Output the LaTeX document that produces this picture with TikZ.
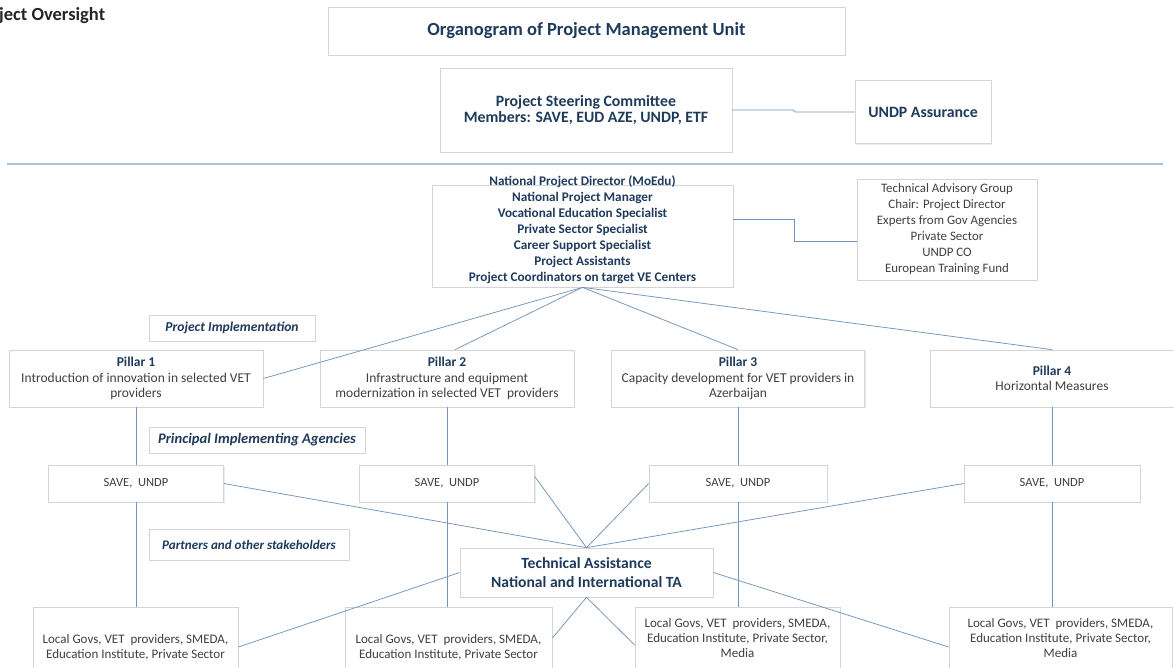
\documentclass[tikz,border=0pt]{standalone}
\usepackage{fontspec}
\setmainfont{Carlito}
\usetikzlibrary{shadows}
\definecolor{navy}{HTML}{1F3B5C}
\definecolor{txtgray}{HTML}{404040}
\definecolor{conncol}{HTML}{7394BD}
\definecolor{rulecol}{HTML}{A9C0DA}
\definecolor{boxline}{HTML}{D4D4D4}
\begin{document}
\begin{tikzpicture}[x=1pt,y=-1pt,
  box/.style={draw=boxline,line width=0.7pt,fill=white,inner sep=0pt,align=center,
    drop shadow={shadow xshift=1pt,shadow yshift=-1pt,opacity=0.18,fill=black!40}},
  conn/.style={draw=conncol,line width=0.75pt},
  plain/.style={inner sep=0pt,align=center},
  bighead/.style={font=\bfseries\fontsize{15.8}{16}\selectfont,text=navy},
  txtsmall/.style={font=\fontsize{13.5}{15.5}\selectfont,text=txtgray},
  txtloc/.style={font=\fontsize{13}{15}\selectfont,text=txtgray},
  txtsave/.style={font=\fontsize{12.5}{15}\selectfont,text=txtgray},
  txtbold/.style={font=\bfseries\fontsize{13.2}{16}\selectfont,text=navy},
  italab/.style={font=\bfseries\itshape\fontsize{13.4}{15}\selectfont,text=navy},
]
\clip (0,0) rectangle (1174,667);
\fill[white] (0,0) rectangle (1174,667);

% top part
\node[box,minimum width=517,minimum height=48,font=\bfseries\fontsize{18.5}{22}\selectfont,text=navy] (title) at (586.5,31) {Organogram of Project Management Unit};
\node[plain,anchor=west,font=\bfseries\fontsize{18.5}{22}\selectfont,text=black!85] (over) at (-1,16) {ject Oversight};
\node[box,bighead,minimum width=292,minimum height=84] (steer) at (586,110) {Project Steering Committee\\Members: SAVE, EUD AZE, UNDP, ETF};
\node[box,bighead,minimum width=136,minimum height=63] (undp) at (923,112) {UNDP Assurance};
\draw[conn] (steer.east) -- ++(61,0) -- ++(2,2) -- (undp.west);

\draw[draw=rulecol,line width=1.4pt] (7,164) -- (1163,164);

% PMU
\node[box,minimum width=301,minimum height=102] (pmu) at (582.5,236) {};
\node[plain,txtbold] (pmutext) at (582.5,230) {National Project Director (MoEdu)\\National Project Manager\\Vocational Education Specialist\\Private Sector Specialist\\Career Support Specialist\\Project Assistants\\Project Coordinators on target VE Centers};
\node[box,font=\fontsize{12.9}{16}\selectfont,text=txtgray,minimum width=180,minimum height=101] (tag) at (947,229.5) {Technical Advisory Group\\Chair: Project Director\\Experts from Gov Agencies\\Private Sector\\UNDP CO\\European Training Fund};
\draw[conn] ([yshift=-35pt]pmu.north east) -- ++(61,0) |- ([yshift=-11.5pt]tag.west);

% labels
\node[box,italab,font=\bfseries\itshape\fontsize{13.6}{15}\selectfont,minimum width=166,minimum height=26] (impl) at (232,328) {Project Implementation};
\node[box,italab,font=\bfseries\itshape\fontsize{14.6}{16}\selectfont,minimum width=216,minimum height=26] (pia) at (257,440) {Principal Implementing Agencies};
\node[box,italab,font=\bfseries\itshape\fontsize{13.1}{15}\selectfont,minimum width=200,minimum height=31] (partners) at (249,544.5) {Partners and other stakeholders};

% pillars
\node[box,txtsmall,minimum width=254,minimum height=57] (p1) at (136,378.5) {\textcolor{navy}{\bfseries Pillar 1}\\Introduction of innovation in selected VET\\providers};
\node[box,txtsmall,minimum width=254,minimum height=57] (p2) at (447,378.5) {\textcolor{navy}{\bfseries Pillar 2}\\Infrastructure and equipment\\modernization in selected VET\ \ providers};
\node[box,txtsmall,minimum width=253,minimum height=57] (p3) at (738,378.5) {\textcolor{navy}{\bfseries Pillar 3}\\Capacity development for VET providers in\\Azerbaijan};
\node[box,txtsmall,minimum width=244,minimum height=57] (p4) at (1052,378.5) {\textcolor{navy}{\bfseries Pillar 4}\\Horizontal Measures};

\draw[conn] (pmu.south) -- (p1.east);
\draw[conn] (pmu.south) -- ([xshift=8pt]p2.north);
\draw[conn] (pmu.south) -- (p3.north);
\draw[conn] (pmu.south) -- (p4.north);

% agencies
\node[box,txtsave,minimum width=175,minimum height=37] (s1) at (136,483.5) {SAVE,\ \ UNDP};
\node[box,txtsave,minimum width=175,minimum height=37] (s2) at (447,483.5) {SAVE,\ \ UNDP};
\node[box,txtsave,minimum width=178,minimum height=37] (s3) at (738,483.5) {SAVE,\ \ UNDP};
\node[box,txtsave,minimum width=176,minimum height=37] (s4) at (1052,483.5) {SAVE,\ \ UNDP};

% technical assistance
\node[box,font=\bfseries\fontsize{15.6}{19}\selectfont,text=navy,minimum width=253,minimum height=49] (ta) at (586.5,572.5) {Technical Assistance\\National and International TA};

% stakeholders
\node[box,minimum width=205,minimum height=80] (l1) at (135.5,647) {};
\node[plain,txtloc] (l1t) at (135.5,647.5) {Local Govs, VET\ \ providers, SMEDA,\\Education Institute, Private Sector};
\node[box,minimum width=207,minimum height=80] (l2) at (448.5,647) {};
\node[plain,txtloc] (l2t) at (448.5,647.5) {Local Govs, VET\ \ providers, SMEDA,\\Education Institute, Private Sector};
\node[box,minimum width=205,minimum height=80] (l3) at (737.5,647) {};
\node[plain,txtloc] (l3t) at (737.5,638.5) {Local Govs, VET\ \ providers, SMEDA,\\Education Institute, Private Sector,\\Media};
\node[box,minimum width=223,minimum height=80] (l4) at (1060.5,647) {};
\node[plain,txtloc] (l4t) at (1060.5,638.5) {Local Govs, VET\ \ providers, SMEDA,\\Education Institute, Private Sector,\\Media};

% vertical lines
\foreach \i in {1,2,3,4}{
  \draw[conn] (p\i.south) -- (p\i.south |- s\i.north);
  \draw[conn] (s\i.south) -- (s\i.south |- l\i.north);
}

% TA connectors
\draw[conn] (s1.east) -- (ta.north);
\draw[conn] ([yshift=-12pt]s2.north east) -- (ta.north);
\draw[conn] (s3.west) -- (ta.north);
\draw[conn] (s4.west) -- (ta.north);
\draw[conn] (ta.west) -- (l1.east);
\draw[conn] (ta.south) -- ([yshift=9pt]l2.east);
\draw[conn] (ta.south) -- ([yshift=2pt]l3.west);
\draw[conn] (ta.east) -- (l4.west);
\end{tikzpicture}
\end{document}
